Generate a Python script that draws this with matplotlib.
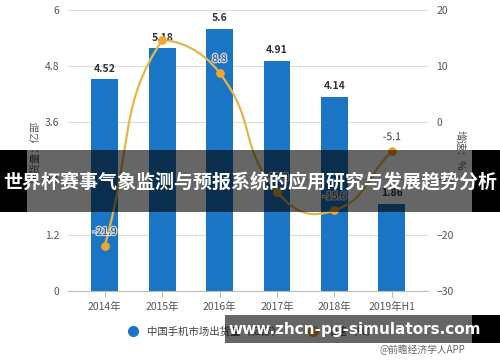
import numpy as np
import matplotlib.pyplot as plt
from matplotlib.path import Path
from matplotlib.patches import PathPatch, Rectangle
from matplotlib.lines import Line2D
import matplotlib.patheffects as pe

plt.rcParams['font.family'] = ['Noto Sans CJK SC', 'DejaVu Sans']

years = ['2014年', '2015年', '2016年', '2017年', '2018年', '2019年H1']
shipments = [4.52, 5.18, 5.6, 4.91, 4.14, 1.86]
growth = [-21.9, 14.6, 8.8, -12.3, -15.6, -5.1]
growth_shown = ['-21.9', '', '8.8', '-12.3', '-15.6', '-5.1']

bar_color = '#1a76c4'
line_color = '#e6b54a'
dot_color = '#f0a62a'
tick_color = '#555555'

fig = plt.figure(figsize=(5, 3.62), dpi=100)
ax = fig.add_axes([0.136, 0.195, 0.72, 0.778])
ax2 = ax.twinx()

x = np.arange(len(years))
ax.bar(x, shipments, width=0.47, color=bar_color, zorder=2)
for xi, v in zip(x, shipments):
    ax.text(xi, v + 0.12, '%g' % v, ha='center', va='bottom', fontsize=7.5,
            fontweight='bold', color='#333333', zorder=3)

ax.set_ylim(0, 6)
ax.set_yticks([0, 1.2, 2.4, 3.6, 4.8, 6])
ax.set_yticklabels(['0', '1.2', '2.4', '3.6', '4.8', '6'])
ax.set_xlim(-0.64, 5.63)
ax.set_xticks(x)
ax.set_xticklabels(years)
ax.grid(axis='y', color='#dddddd', linewidth=0.8, zorder=0)
ax.set_axisbelow(True)
for s in ['top', 'right', 'left']:
    ax.spines[s].set_visible(False)
ax.spines['bottom'].set_color('#bbbbbb')
ax.tick_params(axis='y', length=0, labelsize=7.5, colors=tick_color, pad=6)
ax.tick_params(axis='x', length=4, color='#bbbbbb', labelsize=7.5, labelcolor=tick_color)
ax.set_ylabel('出货量：亿部', fontsize=7.5, color=tick_color, labelpad=4)

ax2.set_ylim(-30, 20)
ax2.set_yticks([-30, -20, -10, 0, 10, 20])
for s in ax2.spines.values():
    s.set_visible(False)
ax2.tick_params(axis='y', length=0, labelsize=7.5, colors=tick_color, pad=6)
ax2.set_ylabel('增速：%', fontsize=7.5, color=tick_color, rotation=270, labelpad=8)

# smooth curve (echarts style bezier, clamped to the data range), built in pixels
pts = ax2.transData.transform(np.column_stack([x, growth]).astype(float))
lo = pts.min(axis=0)
hi = pts.max(axis=0)
smooth = 0.5
cp_in = []
cp_out = []
for i in range(len(pts)):
    prev = pts[i - 1] if i > 0 else pts[i]
    nxt = pts[i + 1] if i + 1 < len(pts) else pts[i]
    v = nxt - prev
    d0 = np.hypot(*(pts[i] - prev))
    d1 = np.hypot(*(nxt - pts[i]))
    tot = d0 + d1
    if tot > 0:
        d0, d1 = d0 / tot, d1 / tot
    cp_in.append(np.clip(pts[i] - v * d0 * smooth, lo, hi))
    cp_out.append(np.clip(pts[i] + v * d1 * smooth, lo, hi))
verts = [pts[0]]
codes = [Path.MOVETO]
for i in range(len(pts) - 1):
    verts += [cp_out[i], cp_in[i + 1], pts[i + 1]]
    codes += [Path.CURVE4] * 3
verts = ax2.transData.inverted().transform(np.array(verts))
ax2.add_patch(PathPatch(Path(verts, codes), facecolor='none', edgecolor=line_color,
                        linewidth=1.6, zorder=4))
ax2.scatter(x, growth, s=28, color=dot_color, zorder=5)
for xi, v, t in zip(x, growth, growth_shown):
    if t:
        ax2.text(xi, v + 1.6, t, ha='center', va='bottom', fontsize=7.5,
                 color='#444444', zorder=6,
                 path_effects=[pe.withStroke(linewidth=2, foreground='white', alpha=0.7)])

# legend
handles = [Line2D([], [], marker='o', linestyle='', color=bar_color, markersize=7),
           Line2D([], [], marker='o', linestyle='', color=dot_color, markersize=7)]
fig.legend(handles, ['中国手机市场出货量（亿部）', '增速（%）'], loc='center',
           bbox_to_anchor=(0.5, 0.085), ncol=2, frameon=False, fontsize=7.5,
           handletextpad=0.3, columnspacing=2.0, labelcolor='#444444')
fig.text(0.93, 0.033, '@前瞻经济学人APP', ha='right', va='center', fontsize=7, color='#666666')

# overlay banners
fig.patches.append(Rectangle((0, 0.414), 0.054, 0.171, transform=fig.transFigure,
                             facecolor='black', zorder=10))
fig.patches.append(Rectangle((0.054, 0.414), 0.89, 0.171, transform=fig.transFigure,
                             facecolor='black', alpha=0.6, zorder=10))
fig.patches.append(Rectangle((0.944, 0.414), 0.056, 0.171, transform=fig.transFigure,
                             facecolor='black', zorder=10))
fig.text(0.5, 0.495, '世界杯赛事气象监测与预报系统的应用研究与发展趋势分析', ha='center',
         va='center', fontsize=13.7, fontweight='bold', color='white', zorder=11)

fig.patches.append(Rectangle((0.45, 0.052), 0.494, 0.078, transform=fig.transFigure,
                             facecolor='black', alpha=0.6, zorder=10))
fig.patches.append(Rectangle((0.944, 0.052), 0.056, 0.078, transform=fig.transFigure,
                             facecolor='black', zorder=10))
fig.text(0.71, 0.09, 'www.zhcn-pg-simulators.com', ha='center', va='center',
         fontsize=11, fontweight='bold', color='white', zorder=11, family='DejaVu Sans')

fig.savefig('out.png', dpi=100)
